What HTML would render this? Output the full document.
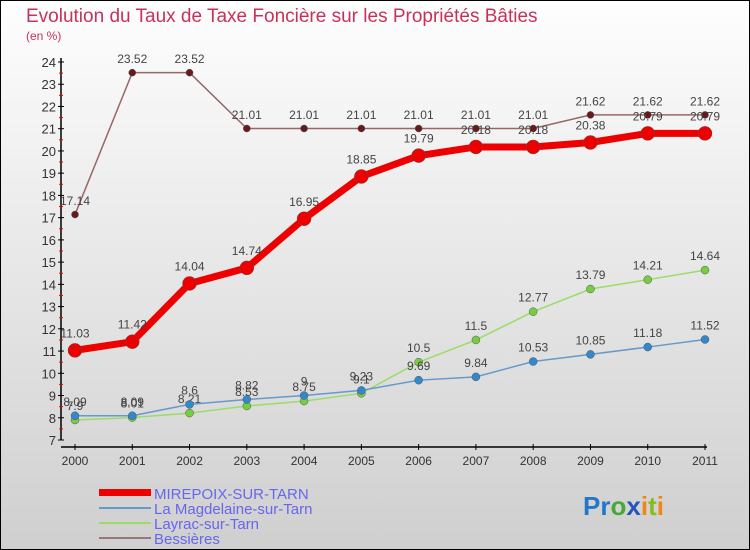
<!DOCTYPE html>
<html><head><meta charset="utf-8"><style>
body{margin:0;width:750px;height:550px;overflow:hidden;font-family:"Liberation Sans",sans-serif}
svg{display:block}
</style></head><body>
<svg id="chart" width="750" height="550" xmlns="http://www.w3.org/2000/svg">
<defs><linearGradient id="bg" x1="0" y1="0" x2="0" y2="1"><stop offset="0" stop-color="#fefefe"/><stop offset="1" stop-color="#cfcfcf"/></linearGradient></defs>
<rect x="0" y="0" width="750" height="550" fill="url(#bg)" stroke="#000" stroke-width="2"/>
<text x="26" y="22" font-size="19" fill="#c8315a">Evolution du Taux de Taxe Foncière sur les Propriétés Bâties</text>
<text x="26" y="40" font-size="12" fill="#c8315a">(en %)</text>
<g id="axes"></g>
<g id="series"></g>
<g>
<rect x="99" y="489" width="52" height="7" fill="#ee0000"/>
<text x="154" y="499" font-size="15" fill="#6666ee">MIREPOIX-SUR-TARN</text>
<rect x="99" y="507" width="52" height="2" fill="#6699cc"/>
<text x="154" y="514" font-size="15" fill="#6666ee">La Magdelaine-sur-Tarn</text>
<rect x="99" y="522" width="52" height="2" fill="#99dd66"/>
<text x="154" y="529" font-size="15" fill="#6666ee">Layrac-sur-Tarn</text>
<rect x="99" y="537" width="52" height="2" fill="#997777"/>
<text x="154" y="544" font-size="15" fill="#6666ee">Bessières</text>
</g>
<text x="583" y="515" font-size="26" font-weight="bold"><tspan fill="#2277cc">Pr</tspan><tspan fill="#44aa33">o</tspan><tspan fill="#2255bb">x</tspan><tspan fill="#ee8811">i</tspan><tspan fill="#88bb22">t</tspan><tspan fill="#ee8811">i</tspan></text>
</svg>
<script>
const years=[2000,2001,2002,2003,2004,2005,2006,2007,2008,2009,2010,2011];
const mirepoix=[11.03,11.42,14.04,14.74,16.95,18.85,19.79,20.18,20.18,20.38,20.79,20.79];
const magdelaine=[8.09,8.09,8.6,8.82,9,9.23,9.69,9.84,10.53,10.85,11.18,11.52];
const layrac=[7.9,8.01,8.21,8.53,8.75,9.1,10.5,11.5,12.77,13.79,14.21,14.64];
const bessieres=[17.14,23.52,23.52,21.01,21.01,21.01,21.01,21.01,21.01,21.62,21.62,21.62];
const yTicks=[7,8,9,10,11,12,13,14,15,16,17,18,19,20,21,22,23,24];
const NS="http://www.w3.org/2000/svg";
const X0=75,X1=705,Y0=440,Y1=62,YMIN=7,YMAX=24;
function xs(i){return X0+(X1-X0)*i/(years.length-1);}
function ys(v){return Y0-(v-YMIN)*(Y0-Y1)/(YMAX-YMIN);}
function mk(tag,attrs,parent){const e=document.createElementNS(NS,tag);for(const k in attrs)e.setAttribute(k,attrs[k]);parent.appendChild(e);return e;}
const axes=document.getElementById('axes');
let a=mk('line',{x1:61,y1:Y1-4,x2:61,y2:Y0,stroke:'#000','stroke-width':1.5},axes);


a=mk('line',{x1:61,y1:Y0+7,x2:X1+2,y2:Y0+7,stroke:'#000','stroke-width':1.5},axes);


yTicks.forEach(v=>{
  const y=ys(v);
  mk('line',{x1:58,y1:y,x2:64,y2:y,stroke:'#000'},axes);
  if(v<YMAX)mk('line',{x1:59,y1:ys(v+0.5),x2:63,y2:ys(v+0.5),stroke:'#e00'},axes);
  const t=mk('text',{x:56,y:y+5,'font-size':13,fill:'#333','text-anchor':'end'},axes);
  t.textContent=v;
  
  
});
years.forEach((yr,i)=>{
  mk('line',{x1:xs(i),y1:Y0+4,x2:xs(i),y2:Y0+10,stroke:'#000'},axes);
  const t=mk('text',{x:xs(i),y:Y0+25,'font-size':12,fill:'#333','text-anchor':'middle'},axes);
  t.textContent=yr;
  
  
});
const ser=document.getElementById('series');
function draw(name,data,color,dot,w,r,fs){
  const g=mk('g',{},ser);
  
  
  const pts=data.map((v,i)=>xs(i)+','+ys(v)).join(' ');
  mk('polyline',{points:pts,fill:'none',stroke:color,'stroke-width':w},g);
  data.forEach((v,i)=>{
    const c=mk('circle',{cx:xs(i),cy:ys(v),r:r,fill:dot,stroke:'#555','stroke-width':0.5},g);
    
    
    const t=mk('text',{x:xs(i),y:ys(v)-r-6,'font-size':fs,fill:'#444','text-anchor':'middle'},g);
    t.textContent=v;
    
    
  });
}
draw('bessieres',bessieres,'#996666','#661a1a',1.5,3.5,12);
draw('layrac',layrac,'#99dd66','#77cc44',1.5,4,12);
draw('magdelaine',magdelaine,'#6699cc','#3388cc',1.5,4,12);
draw('mirepoix',mirepoix,'#ee0000','#ee0000',7,7,12);
</script>
</body></html>
